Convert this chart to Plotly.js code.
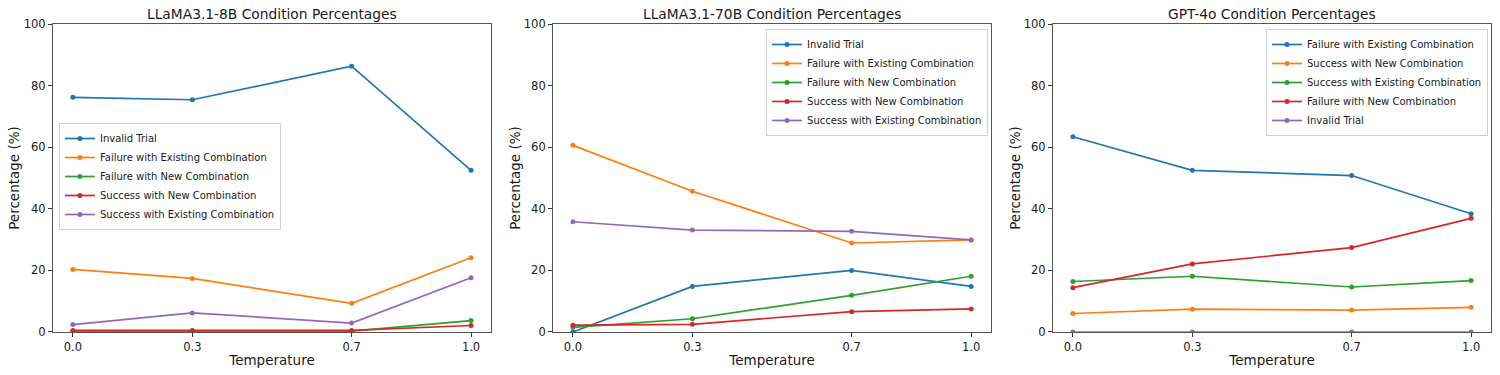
<!DOCTYPE html>
<html>
<head>
<meta charset="utf-8">
<script src="https://cdn.plot.ly/plotly-3.0.1.min.js"></script>
<style>
  html, body { margin: 0; padding: 0; background: #fff; }
  #chart { width: 1500px; height: 375px; }
</style>
</head>
<body>
<div id="chart"></div>
<script>
// === DATA ===
const temps = [0.0, 0.3, 0.7, 1.0];
const tickLabels = ['0.0', '0.3', '0.7', '1.0'];

const panelTitles = [
  'LLaMA3.1-8B Condition Percentages',
  'LLaMA3.1-70B Condition Percentages',
  'GPT-4o Condition Percentages'
];

// LLaMA3.1-8B
const llama8bNames = ['Invalid Trial', 'Failure with Existing Combination', 'Failure with New Combination',
  'Success with New Combination', 'Success with Existing Combination'];
const llama8bInvalid = [76.2, 75.4, 86.3, 52.5];
const llama8bFailExisting = [20.3, 17.4, 9.3, 24.1];
const llama8bFailNew = [0.3, 0.3, 0.3, 3.7];
const llama8bSuccessNew = [0.5, 0.5, 0.5, 2.1];
const llama8bSuccessExisting = [2.4, 6.2, 2.9, 17.6];

// LLaMA3.1-70B
const llama70bNames = llama8bNames;
const llama70bInvalid = [0.0, 14.8, 20.0, 14.8];
const llama70bFailExisting = [60.6, 45.7, 28.9, 29.9];
const llama70bFailNew = [1.5, 4.3, 11.9, 18.1];
const llama70bSuccessNew = [2.2, 2.5, 6.6, 7.5];
const llama70bSuccessExisting = [35.8, 33.1, 32.7, 29.9];

// GPT-4o
const gptNames = ['Failure with Existing Combination', 'Success with New Combination',
  'Success with Existing Combination', 'Failure with New Combination', 'Invalid Trial'];
const gptFailExisting = [63.4, 52.5, 50.8, 38.4];
const gptSuccessNew = [6.0, 7.4, 7.1, 8.0];
const gptSuccessExisting = [16.4, 18.1, 14.6, 16.7];
const gptFailNew = [14.4, 22.1, 27.4, 36.9];
const gptInvalid = [0, 0, 0, 0];

const colors = ['#1f77b4', '#ff7f0e', '#2ca02c', '#d62728', '#9467bd'];

const panels = [
  { names: llama8bNames, series: [llama8bInvalid, llama8bFailExisting, llama8bFailNew, llama8bSuccessNew, llama8bSuccessExisting] },
  { names: llama70bNames, series: [llama70bInvalid, llama70bFailExisting, llama70bFailNew, llama70bSuccessNew, llama70bSuccessExisting] },
  { names: gptNames, series: [gptFailExisting, gptSuccessNew, gptSuccessExisting, gptFailNew, gptInvalid] }
];

// === LAYOUT ===
const FONT = 'DejaVu Sans, sans-serif';
const TXT = '#1a1a1a';
const xDomains = [[0.0353, 0.3273], [0.3687, 0.6607], [0.702, 0.994]];
const yDomain = [0.1147, 0.936];
// first legend centred on the reference box, the other two pinned to the top
const legendPos = [{ x: 0.0393, y: 0.672 }, { x: 0.5107, y: 0.9227 }, { x: 0.844, y: 0.9227 }];

const traces = [];
const layout = {
  width: 1500,
  height: 375,
  margin: { l: 0, r: 0, t: 0, b: 0 },
  paper_bgcolor: '#fff',
  plot_bgcolor: '#fff',
  font: { family: FONT, color: TXT },
  annotations: []
};

panels.forEach((p, i) => {
  const n = i === 0 ? '' : String(i + 1);
  const legendKey = 'legend' + n;
  p.series.forEach((vals, j) => {
    traces.push({
      x: temps,
      y: vals,
      name: p.names[j],
      mode: 'lines+markers',
      type: 'scatter',
      xaxis: 'x' + n,
      yaxis: 'y' + n,
      legend: legendKey,
      line: { color: colors[j], width: 1.7 },
      marker: { color: colors[j], size: 5 }
    });
  });

  layout['xaxis' + n] = {
    domain: xDomains[i],
    anchor: 'y' + n,
    range: [-0.05, 1.05],
    tickvals: temps,
    ticktext: tickLabels,
    ticks: 'outside',
    ticklen: 4,
    tickcolor: '#333',
    tickfont: { size: 11.5, family: FONT, color: TXT },
    showline: true,
    mirror: true,
    linecolor: '#555',
    linewidth: 1,
    showgrid: false,
    zeroline: false,
    title: { text: 'Temperature', font: { size: 13.5, family: FONT, color: TXT }, standoff: 2 }
  };
  layout['yaxis' + n] = {
    domain: yDomain,
    anchor: 'x' + n,
    range: [0, 100],
    tickvals: [0, 20, 40, 60, 80, 100],
    ticks: 'outside',
    ticklen: 4,
    tickcolor: '#333',
    tickfont: { size: 11.5, family: FONT, color: TXT },
    showline: true,
    mirror: true,
    linecolor: '#555',
    linewidth: 1,
    showgrid: false,
    zeroline: false,
    title: { text: 'Percentage (%)', font: { size: 13.5, family: FONT, color: TXT }, standoff: 0 }
  };
  layout[legendKey] = {
    x: legendPos[i].x,
    y: legendPos[i].y,
    xanchor: 'left',
    yanchor: 'top',
    bgcolor: 'rgba(255,255,255,0.85)',
    bordercolor: '#d0d0d0',
    borderwidth: 1,
    font: { size: 10, family: FONT, color: TXT },
    tracegroupgap: 0
  };
  layout.annotations.push({
    text: panelTitles[i],
    xref: 'paper',
    yref: 'paper',
    x: (xDomains[i][0] + xDomains[i][1]) / 2,
    y: yDomain[1],
    yshift: 0,
    xanchor: 'center',
    yanchor: 'bottom',
    showarrow: false,
    font: { size: 13.8, family: FONT, color: TXT }
  });
});

Plotly.newPlot('chart', traces, layout, { displayModeBar: false, staticPlot: true });
</script>
</body>
</html>
